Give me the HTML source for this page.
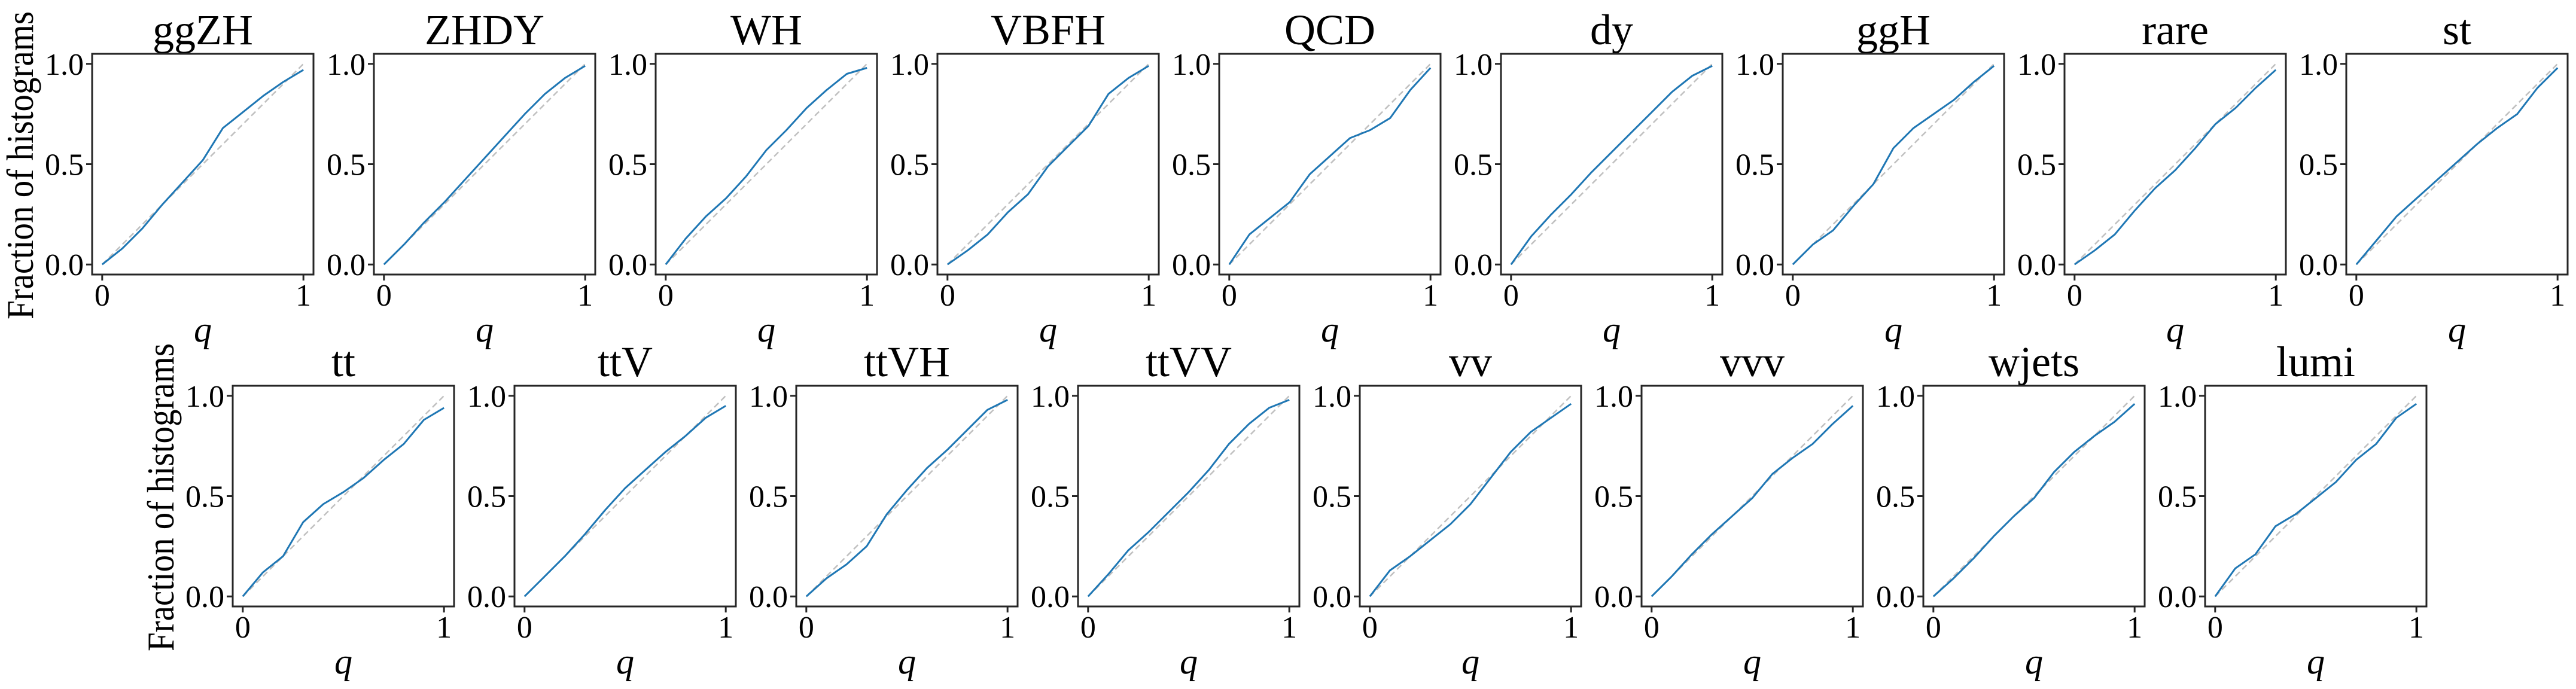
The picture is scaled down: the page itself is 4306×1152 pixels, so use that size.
<!DOCTYPE html>
<html><head><meta charset="utf-8"><style>
html,body{margin:0;padding:0;background:#fff;}
svg{display:block;}
text{font-family:"Liberation Serif","DejaVu Serif",serif;fill:#000;}
</style></head><body>
<svg id="fig" width="4306" height="1152" viewBox="0 0 4306 1152" xmlns="http://www.w3.org/2000/svg"></svg>
<script>
const names = ["ggZH","ZHDY","WH","VBFH","QCD","dy","ggH","rare","st","tt","ttV","ttVH","ttVV","vv","vvv","wjets","lumi"];
const qValues = [0,0.1,0.2,0.3,0.4,0.5,0.6,0.7,0.8,0.9,1.0];
const yTickLabels = ["0.0","0.5","1.0"];
const yTickValues = [0,0.5,1];
const xTickLabels = ["0","1"];
const xTickValues = [0,1];
const s_ggZH  = [0,.08,.18,.30,.41,.52,.68,.76,.84,.91,.97];
const s_ZHDY  = [0,.10,.21,.31,.42,.53,.64,.75,.85,.93,.99];
const s_WH    = [0,.13,.24,.33,.44,.57,.67,.78,.87,.95,.98];
const s_VBFH  = [0,.07,.15,.26,.35,.49,.59,.69,.85,.93,.99];
const s_QCD   = [0,.15,.23,.31,.45,.54,.63,.67,.73,.87,.98];
const s_dy    = [0,.14,.25,.35,.46,.56,.66,.76,.86,.94,.99];
const s_ggH   = [0,.10,.17,.29,.40,.58,.68,.75,.82,.91,.99];
const s_rare  = [0,.07,.15,.27,.38,.47,.58,.70,.78,.88,.97];
const s_st    = [0,.12,.24,.33,.42,.51,.60,.68,.75,.88,.98];
const s_tt    = [0,.12,.20,.37,.46,.52,.59,.68,.76,.88,.94];
const s_ttV   = [0,.10,.20,.31,.43,.54,.63,.72,.80,.89,.95];
const s_ttVH  = [0,.09,.16,.25,.41,.53,.64,.73,.83,.93,.98];
const s_ttVV  = [0,.11,.23,.32,.42,.52,.63,.76,.86,.94,.98];
const s_vv    = [0,.13,.20,.28,.36,.46,.59,.72,.82,.89,.96];
const s_vvv   = [0,.10,.21,.31,.40,.49,.61,.69,.76,.86,.95];
const s_wjets = [0,.09,.19,.30,.40,.49,.62,.72,.80,.87,.96];
const s_lumi  = [0,.14,.21,.35,.41,.49,.57,.68,.76,.89,.96];
const series = [s_ggZH,s_ZHDY,s_WH,s_VBFH,s_QCD,s_dy,s_ggH,s_rare,s_st,s_tt,s_ttV,s_ttVH,s_ttVV,s_vv,s_vvv,s_wjets,s_lumi];

const NS = "http://www.w3.org/2000/svg";
const svg = document.getElementById("fig");
function mk(tag, attrs, parent){
  const e = document.createElementNS(NS, tag);
  for (const k in attrs) e.setAttribute(k, attrs[k]);
  (parent||svg).appendChild(e);
  return e;
}
const W = 370, H = 369, PITCH = 471;
const rows = [
  {left0:154, top:90, n:9, start:0},
  {left0:389, top:645, n:8, start:9}
];
rows.forEach((r, ri) => {
  const cy = r.top + H/2 + 2, cx = ri===0 ? 55 : 290;
  const yl = mk("text", {x:cx, y:cy, "font-size":64, "text-anchor":"middle", textLength:515, lengthAdjust:"spacingAndGlyphs", transform:`rotate(-90 ${cx} ${cy})`});
  yl.textContent = "Fraction of histograms";
  
  
  for (let i = 0; i < r.n; i++) {
    const idx = r.start + i;
    const L = r.left0 + i*PITCH, T = r.top;
    const g = mk("g", {});
    
    
    const xs = v => L + (v + 0.05) / 1.1 * W;
    const ys = v => T + H - (v + 0.05) / 1.1 * H;
    const t = mk("text", {x:L+W/2, y:T-16, "font-size":72, "text-anchor":"middle"}, g);
    t.textContent = names[idx];
    
    
    const d = mk("line", {x1:xs(0), y1:ys(0), x2:xs(1), y2:ys(1), stroke:"#c0c0c0", "stroke-width":2.5, "stroke-dasharray":"10,6"}, g);
    
    
    const pts = qValues.map((q, k) => xs(q).toFixed(1) + "," + ys(series[idx][k]).toFixed(1)).join(" ");
    const pl = mk("polyline", {points:pts, fill:"none", stroke:"#1f77b4", "stroke-width":3, "stroke-linejoin":"round"}, g);
    
    
    const fr = mk("rect", {x:L, y:T, width:W, height:H, fill:"none", stroke:"#262626", "stroke-width":3}, g);
    
    
    yTickValues.forEach((v, k) => {
      const y = ys(v);
      const tk = mk("line", {x1:L-10, y1:y, x2:L, y2:y, stroke:"#262626", "stroke-width":3}, g);
      
      
      const tl = mk("text", {x:L-14, y:y+18, "font-size":52, "text-anchor":"end"}, g);
      tl.textContent = yTickLabels[k];
      
      
    });
    xTickValues.forEach((v, k) => {
      const x = xs(v);
      const tk = mk("line", {x1:x, y1:T+H, x2:x, y2:T+H+10, stroke:"#262626", "stroke-width":3}, g);
      
      
      const tl = mk("text", {x:x, y:T+H+52, "font-size":52, "text-anchor":"middle"}, g);
      tl.textContent = xTickLabels[k];
      
      
    });
    const ql = mk("text", {x:L+W/2, y:T+H+112, "font-size":60, "font-style":"italic", "text-anchor":"middle"}, g);
    ql.textContent = "q";
    
    
  }
});
</script>
</body></html>
